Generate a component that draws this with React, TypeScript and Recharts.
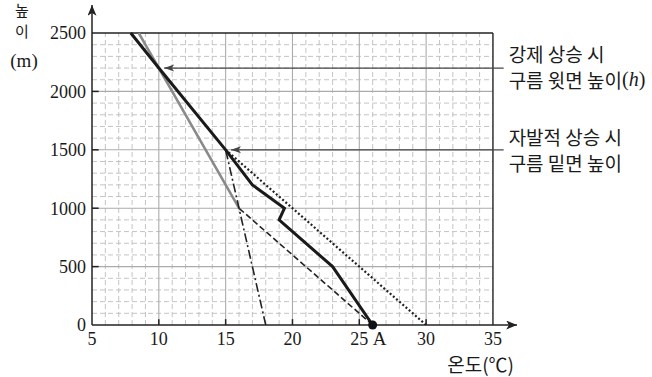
import React from "react";
import { ComposedChart, Line, XAxis, YAxis, ReferenceLine, ReferenceDot } from "recharts";

const xTicks = [5, 10, 15, 20, 25, 30, 35];
const yTicks = [0, 500, 1000, 1500, 2000, 2500];

// 기온 감률 (굵은 실선)
const envTemp = [26, 23, 19, 19.4, 17, 15, 10, 7.9];
const envHeight = [0, 500, 900, 1000, 1200, 1500, 2200, 2500];

// 습윤 단열선 (회색)
const moistTemp = [16, 10, 8.5];
const moistHeight = [1000, 2200, 2500];

// A에서 건조 단열 (파선)
const dryATemp = [26, 16];
const dryAHeight = [0, 1000];

// 30℃ 공기 건조 단열 (점선)
const dry30Temp = [30, 15];
const dry30Height = [0, 1500];

// 이슬점 (일점쇄선)
const dewTemp = [18, 15];
const dewHeight = [0, 1500];

const topLabel = ["강제 상승 시", "구름 윗면 높이"];
const baseLabel = ["자발적 상승 시", "구름 밑면 높이"];

const toPoints = (t: number[], h: number[]) => t.map((x, i) => ({ x, y: h[i] }));

const minorX = Array.from({ length: 29 }, (_, i) => i + 6).filter((v) => v % 5 !== 0);
const minorY = Array.from({ length: 24 }, (_, i) => (i + 1) * 100).filter((v) => v % 500 !== 0);
const majorX = [10, 15, 20, 25, 30];
const majorY = [500, 1000, 1500, 2000];

const serif = '"Liberation Serif", "Times New Roman", serif';
const sans = '"Noto Sans CJK KR", "Noto Sans", sans-serif';

const ArrowLine = (p: any) => {
  const left = Math.min(p.x1, p.x2);
  const right = Math.max(p.x1, p.x2);
  const y = p.y1;
  return (
    <g>
      <line x1={left} y1={y} x2={right} y2={y} stroke="#444" strokeWidth={1.3} />
      <path d={`M${left},${y} l10,-3.5 l-2.5,3.5 l2.5,3.5 z`} fill="#444" />
    </g>
  );
};

// 두 줄 설명을 하나의 text 요소로
const sideLabel = (lines: string[], withH: boolean, up: number, gap: number) => (p: any) => {
  const vb = p.viewBox;
  const x = vb.x + vb.width + 5;
  return (
    <text x={x} y={vb.y - up} dominantBaseline="central" fontFamily={sans} fontSize={19} fill="#1a1a1a">
      <tspan x={x}>{lines[0]}</tspan>
      <tspan x={x} dy={gap}>{lines[1]}</tspan>
      {withH && (
        <>
          <tspan fontFamily={serif} fontSize={20}>(</tspan>
          <tspan fontFamily={serif} fontSize={20} fontStyle="italic">h</tspan>
          <tspan fontFamily={serif} fontSize={20}>)</tspan>
        </>
      )}
    </text>
  );
};

const yLabel = (p: any) => {
  const vb = p.viewBox;
  const cx = vb.x + 22;
  return (
    <g fill="#1a1a1a">
      <text x={cx} y={9} textAnchor="middle" dominantBaseline="central" fontFamily={sans} fontSize={15}>
        <tspan x={cx}>높</tspan>
        <tspan x={cx} dy={21}>이</tspan>
      </text>
      <text x={cx + 2} y={60} textAnchor="middle" dominantBaseline="central" fontFamily={serif} fontSize={19}>(m)</text>
    </g>
  );
};

const aLabel = (p: any) => {
  const vb = p.viewBox;
  const cx = vb.x + vb.width / 2;
  const cy = vb.y + vb.height / 2;
  return (
    <text x={cx + 7} y={cy + 20} textAnchor="middle" fontFamily={serif} fontSize={19} fill="#1a1a1a">A</text>
  );
};

export default function App() {
  const tickStyle = { fontFamily: serif, fontSize: 18, fill: "#1a1a1a" };
  return (
    <div style={{ position: "absolute", left: 0, top: 0, background: "#fff" }}>
      <ComposedChart width={652} height={377} margin={{ top: 5, right: 135, bottom: 2, left: 0 }}>
        <defs>
          <marker id="axArrow" viewBox="0 0 12 10" refX="12" refY="5" markerWidth="12" markerHeight="9"
            markerUnits="userSpaceOnUse" orient="auto-start-reverse">
            <path d="M0,0 L12,5 L0,10 L3,5 z" fill="#222" />
          </marker>
        </defs>
        <XAxis
          type="number"
          dataKey="x"
          domain={[5, 36.8]}
          ticks={xTicks}
          allowDataOverflow
          height={50}
          tickSize={0}
          tickMargin={7}
          tick={tickStyle}
          axisLine={{ stroke: "#222", strokeWidth: 1.5, markerEnd: "url(#axArrow)" }}
          label={{ value: "온도(℃)", position: "insideBottomRight", offset: 3, style: { fontFamily: sans, fontSize: 19, fill: "#1a1a1a" } }}
        />
        <YAxis
          type="number"
          dataKey="y"
          domain={[0, 2740]}
          ticks={yTicks}
          allowDataOverflow
          width={92}
          tickSize={0}
          tickMargin={6}
          tick={tickStyle}
          axisLine={{ stroke: "#222", strokeWidth: 1.5, markerStart: "url(#axArrow)" }}
          label={yLabel}
        />

        {minorX.map((v) => (
          <ReferenceLine key={`mx${v}`} segment={[{ x: v, y: 0 }, { x: v, y: 2500 }]} stroke="#bdbdbd" strokeWidth={0.9} strokeDasharray="5 3" />
        ))}
        {minorY.map((v) => (
          <ReferenceLine key={`my${v}`} segment={[{ x: 5, y: v }, { x: 35, y: v }]} stroke="#bdbdbd" strokeWidth={0.9} strokeDasharray="5 3" />
        ))}
        {majorX.map((v) => (
          <ReferenceLine key={`Mx${v}`} segment={[{ x: v, y: 0 }, { x: v, y: 2500 }]} stroke="#ababab" strokeWidth={1.1} />
        ))}
        {majorY.map((v) => (
          <ReferenceLine key={`My${v}`} segment={[{ x: 5, y: v }, { x: 35, y: v }]} stroke="#ababab" strokeWidth={1.1} />
        ))}
        {majorX.map((v) => (
          <ReferenceLine key={`tx${v}`} segment={[{ x: v, y: 0 }, { x: v, y: 50 }]} stroke="#222" strokeWidth={1.5} />
        ))}
        {majorY.map((v) => (
          <ReferenceLine key={`ty${v}`} segment={[{ x: 5, y: v }, { x: 5.5, y: v }]} stroke="#222" strokeWidth={1.5} />
        ))}
        <ReferenceLine segment={[{ x: 5, y: 2500 }, { x: 35, y: 2500 }]} stroke="#222" strokeWidth={1.4} />
        <ReferenceLine segment={[{ x: 35, y: 0 }, { x: 35, y: 2500 }]} stroke="#222" strokeWidth={1.4} />

        <ReferenceLine segment={[{ x: 10.4, y: 2200 }, { x: 35.8, y: 2200 }]} shape={ArrowLine} label={sideLabel(topLabel, true, 15, 26)} />
        <ReferenceLine segment={[{ x: 15.4, y: 1500 }, { x: 35.8, y: 1500 }]} shape={ArrowLine} label={sideLabel(baseLabel, false, 14, 26)} />

        <Line data={toPoints(moistTemp, moistHeight)} dataKey="y" type="linear" dot={false} stroke="#8a8a8a" strokeWidth={2.6} isAnimationActive={false} />
        <Line data={toPoints(dewTemp, dewHeight)} dataKey="y" type="linear" dot={false} stroke="#222" strokeWidth={1.6} strokeDasharray="9 3 2 3" isAnimationActive={false} />
        <Line data={toPoints(dryATemp, dryAHeight)} dataKey="y" type="linear" dot={false} stroke="#222" strokeWidth={1.6} strokeDasharray="6 3" isAnimationActive={false} />
        <Line data={toPoints(dry30Temp, dry30Height)} dataKey="y" type="linear" dot={false} stroke="#222" strokeWidth={2.2} strokeDasharray="2 2.2" isAnimationActive={false} />
        <Line data={toPoints(envTemp, envHeight)} dataKey="y" type="linear" dot={false} stroke="#1a1a1a" strokeWidth={3} isAnimationActive={false} />

        <ReferenceDot x={26} y={0} r={4.5} fill="#111" stroke="none" label={aLabel} />
      </ComposedChart>
    </div>
  );
}
